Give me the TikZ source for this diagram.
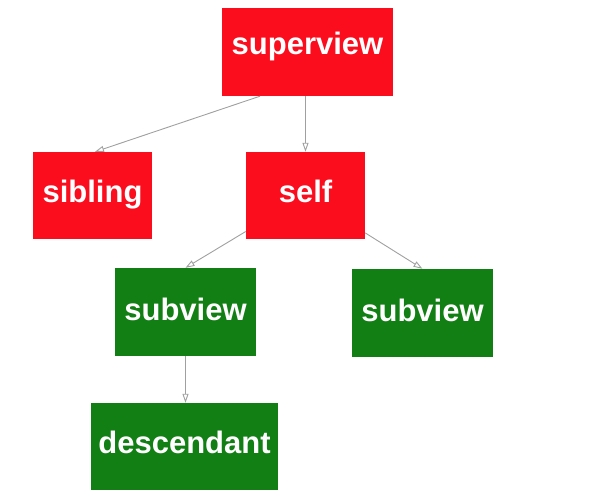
\documentclass[tikz,border=0pt]{standalone}
\usepackage{fontspec}
\setmainfont{Liberation Sans}
\usetikzlibrary{arrows.meta}
\definecolor{boxred}{HTML}{FC0D1E}
\definecolor{boxgreen}{HTML}{117F13}
\definecolor{edgegray}{HTML}{A0A0A0}
\tikzset{
  viewbox/.style={rectangle, inner sep=0pt, text=white,
    font=\fontsize{31}{31}\selectfont\bfseries,
    text height=20pt, text depth=7pt},
  redbox/.style={viewbox, fill=boxred},
  greenbox/.style={viewbox, fill=boxgreen},
  link/.style={draw=edgegray, line width=0.9pt,
    -{Triangle[open,length=9pt,width=6pt]}}
}
\begin{document}
\begin{tikzpicture}[x=1pt,y=-1pt]
\useasboundingbox (0,0) rectangle (615,500);
\node[redbox, minimum width=171pt, minimum height=88pt, text depth=14pt] (sup) at (307.5,52) {superview};
\node[redbox, minimum width=119pt, minimum height=87pt] (sib) at (92.5,195.5) {sibling};
\node[redbox, minimum width=119pt, minimum height=87pt, text depth=5.6pt] (self) at (305.5,195.5) {self};
\node[greenbox, minimum width=141pt, minimum height=88pt, text depth=2.6pt] (sub1) at (185.5,312) {subview};
\node[greenbox, minimum width=141pt, minimum height=88pt, text depth=2.6pt] (sub2) at (422.5,313) {subview};
\node[greenbox, minimum width=187pt, minimum height=87pt] (desc) at (184.5,446.5) {descendant};
\draw[link] ([xshift=-47.5pt]sup.south) -- ([xshift=2.5pt]sib.north);
\draw[link] (sup.south -| self.north) -- (self.north);
\draw[link] (self) -- (sub1.north);
\draw[link] (self) -- (sub2.north);
\draw[link] (sub1.south) -- (desc.north -| sub1.south);
\end{tikzpicture}
\end{document}
